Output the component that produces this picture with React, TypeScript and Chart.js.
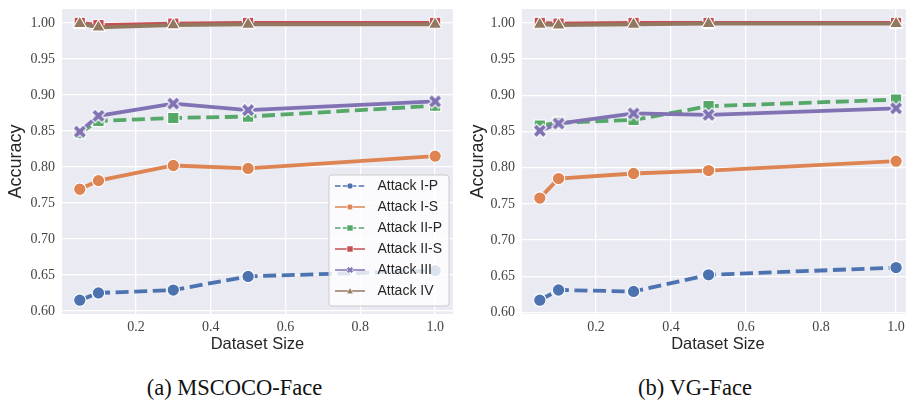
import React, { useEffect, useRef } from "react";
import { Chart, registerables } from "chart.js";
Chart.register(...registerables);

// ---------- data ----------
const datasetSizes = [0.05, 0.1, 0.3, 0.5, 1.0];
const xTicks = [0.2, 0.4, 0.6, 0.8, 1.0];
const yTicks = [0.6, 0.65, 0.7, 0.75, 0.8, 0.85, 0.9, 0.95, 1.0];
const seriesNames = ["Attack I-P", "Attack I-S", "Attack II-P", "Attack II-S", "Attack III", "Attack IV"];
const panelCaptions = ["(a) MSCOCO-Face", "(b) VG-Face"];
const xAxisTitle = "Dataset Size";
const yAxisTitle = "Accuracy";

// (a) MSCOCO-Face
const mscocoIP = [0.615, 0.625, 0.629, 0.648, 0.656];
const mscocoIS = [0.769, 0.781, 0.802, 0.798, 0.815];
const mscocoIIP = [0.847, 0.864, 0.868, 0.870, 0.885];
const mscocoIIS = [1.0, 0.997, 0.999, 1.0, 1.0];
const mscocoIII = [0.849, 0.871, 0.888, 0.879, 0.891];
const mscocoIV = [0.999, 0.994, 0.997, 0.998, 0.998];

// (b) VG-Face
const vgIP = [0.617, 0.631, 0.629, 0.652, 0.662];
const vgIS = [0.758, 0.785, 0.792, 0.796, 0.809];
const vgIIP = [0.858, 0.862, 0.866, 0.885, 0.894];
const vgIIS = [1.0, 0.999, 1.0, 1.0, 1.0];
const vgIII = [0.851, 0.861, 0.875, 0.873, 0.882];
const vgIV = [0.998, 0.997, 0.998, 0.999, 0.999];

// ---------- styles ----------
const COLORS = ["#4C72B0", "#DD8452", "#55A868", "#C44E52", "#8172B3", "#937860"];
const DASHED = [true, false, true, false, false, false];
const MARKERS = ["circle", "circle", "rect", "rect", "X", "triangle"];
const MARKER_R = [6.2, 6.2, 8, 8, 6, 7.6];
const BG = "#EAEAF2";
const TICK_FONT = { family: '"Liberation Serif", serif', size: 14 };
const LABEL_FONT_FAMILY = '"Liberation Sans", sans-serif';

function makeXMarker(size: number, half: number, arm: number, color: string, edge: string, lw: number) {
  const c = document.createElement("canvas");
  c.width = size;
  c.height = size;
  const ctx = c.getContext("2d")!;
  ctx.translate(size / 2, size / 2);
  ctx.rotate(Math.PI / 4);
  const a = arm, L = half;
  ctx.beginPath();
  ctx.moveTo(-a, -L); ctx.lineTo(a, -L); ctx.lineTo(a, -a); ctx.lineTo(L, -a);
  ctx.lineTo(L, a); ctx.lineTo(a, a); ctx.lineTo(a, L); ctx.lineTo(-a, L);
  ctx.lineTo(-a, a); ctx.lineTo(-L, a); ctx.lineTo(-L, -a); ctx.lineTo(-a, -a);
  ctx.closePath();
  ctx.fillStyle = color;
  ctx.fill();
  if (lw > 0) {
    ctx.lineWidth = lw;
    ctx.strokeStyle = edge;
    ctx.stroke();
  }
  return c;
}

const bgPlugin = {
  id: "bgArea",
  beforeDraw(chart: any) {
    const { ctx, chartArea: a } = chart;
    ctx.save();
    ctx.fillStyle = BG;
    ctx.fillRect(a.left, a.top, a.right - a.left, a.bottom - a.top);
    ctx.restore();
  },
};

function drawSmallMarker(ctx: CanvasRenderingContext2D, kind: string, x: number, y: number, color: string) {
  ctx.save();
  ctx.fillStyle = color;
  ctx.strokeStyle = "#fff";
  ctx.lineWidth = 0.6;
  ctx.setLineDash([]);
  if (kind === "circle") {
    ctx.beginPath();
    ctx.arc(x, y, 3, 0, Math.PI * 2);
    ctx.fill();
    ctx.stroke();
  } else if (kind === "rect") {
    ctx.beginPath();
    ctx.rect(x - 3, y - 3, 6, 6);
    ctx.fill();
    ctx.stroke();
  } else if (kind === "triangle") {
    ctx.beginPath();
    ctx.moveTo(x, y - 3.5);
    ctx.lineTo(x + 3.3, y + 2.8);
    ctx.lineTo(x - 3.3, y + 2.8);
    ctx.closePath();
    ctx.fill();
    ctx.stroke();
  } else {
    const img = makeXMarker(10, 3.4, 1.3, color, "#fff", 0.6);
    ctx.drawImage(img, x - 5, y - 5);
  }
  ctx.restore();
}

const legendPlugin = {
  id: "customLegend",
  afterDraw(chart: any) {
    const ctx: CanvasRenderingContext2D = chart.ctx;
    const x0 = 329, y0 = 175, w = 120, h = 131, r = 3;
    ctx.save();
    ctx.beginPath();
    ctx.moveTo(x0 + r, y0);
    ctx.arcTo(x0 + w, y0, x0 + w, y0 + h, r);
    ctx.arcTo(x0 + w, y0 + h, x0, y0 + h, r);
    ctx.arcTo(x0, y0 + h, x0, y0, r);
    ctx.arcTo(x0, y0, x0 + w, y0, r);
    ctx.closePath();
    ctx.fillStyle = "rgba(255,255,255,0.8)";
    ctx.fill();
    ctx.strokeStyle = "#CCCCCC";
    ctx.lineWidth = 1;
    ctx.stroke();
    seriesNames.forEach((name, i) => {
      const y = 186 + i * 21;
      ctx.beginPath();
      ctx.setLineDash(DASHED[i] ? [5.5, 2.4] : []);
      ctx.strokeStyle = COLORS[i];
      ctx.lineWidth = 1.5;
      ctx.moveTo(335, y);
      ctx.lineTo(365, y);
      ctx.stroke();
      ctx.setLineDash([]);
      drawSmallMarker(ctx, MARKERS[i], 350, y, COLORS[i]);
      ctx.fillStyle = "#262626";
      ctx.font = `14px ${LABEL_FONT_FAMILY}`;
      ctx.textBaseline = "middle";
      ctx.textAlign = "left";
      ctx.fillText(name, 377.5, y + 0.5);
    });
    ctx.restore();
  },
};

function buildConfig(series: number[][], yAxisWidth: number, padRight: number, withLegend: boolean) {
  const all = series.flat();
  const dmin = Math.min(...all), dmax = Math.max(...all);
  const ymin = dmin - 0.05 * (dmax - dmin);
  const ymax = dmax + 0.05 * (dmax - dmin);
  const xr = datasetSizes[datasetSizes.length - 1] - datasetSizes[0];
  const xmin = datasetSizes[0] - 0.05 * xr;
  const xmax = datasetSizes[datasetSizes.length - 1] + 0.05 * xr;

  const xMarker = makeXMarker(18, 7.2, 2.5, COLORS[4], "#fff", 1.1);

  const datasets = series.map((vals, i) => ({
    label: seriesNames[i],
    data: vals.map((v, j) => ({ x: datasetSizes[j], y: v })),
    borderColor: COLORS[i],
    backgroundColor: COLORS[i],
    borderWidth: 3.8,
    borderDash: DASHED[i] ? [13, 5.6] : [],
    pointStyle: MARKERS[i] === "X" ? xMarker : MARKERS[i],
    pointRadius: MARKER_R[i],
    pointBorderColor: "#fff",
    pointBorderWidth: 1.1,
    pointBackgroundColor: COLORS[i],
    tension: 0,
    order: series.length - 1 - i,
    clip: false as any,
  }));

  return {
    type: "line" as const,
    data: { datasets },
    plugins: withLegend ? [bgPlugin, legendPlugin] : [bgPlugin],
    options: {
      animation: false as const,
      responsive: false,
      maintainAspectRatio: false,
      layout: { padding: { top: 5, right: padRight, left: 0, bottom: 0 } },
      plugins: { legend: { display: false }, tooltip: { enabled: false } },
      scales: {
        x: {
          type: "linear" as const,
          min: xmin,
          max: xmax,
          afterBuildTicks: (s: any) => { s.ticks = xTicks.map((v) => ({ value: v })); },
          afterFit: (s: any) => {
            s.height = 44;
            s.paddingLeft = 0; s.paddingRight = 0; s.paddingTop = 0; s.paddingBottom = 0;
          },
          grid: { color: "#ffffff", lineWidth: 1.3, drawTicks: false },
          border: { display: false },
          ticks: {
            padding: 5,
            font: TICK_FONT,
            color: "#444444",
            maxRotation: 0,
            autoSkip: false,
            callback: (v: any) => Number(v).toFixed(1),
          },
          title: {
            display: true,
            text: xAxisTitle,
            color: "#262626",
            font: { family: LABEL_FONT_FAMILY, size: 16.5 },
            padding: { top: 0, bottom: 4 },
          },
        },
        y: {
          type: "linear" as const,
          min: ymin,
          max: ymax,
          afterBuildTicks: (s: any) => { s.ticks = yTicks.map((v) => ({ value: v })); },
          afterFit: (s: any) => {
            s.width = yAxisWidth;
            s.paddingLeft = 0; s.paddingRight = 0; s.paddingTop = 0; s.paddingBottom = 0;
          },
          grid: { color: "#ffffff", lineWidth: 1.3, drawTicks: false },
          border: { display: false },
          ticks: {
            padding: 7,
            font: TICK_FONT,
            color: "#444444",
            autoSkip: false,
            callback: (v: any) => Number(v).toFixed(2),
          },
          title: {
            display: true,
            text: yAxisTitle,
            color: "#262626",
            font: { family: LABEL_FONT_FAMILY, size: 18 },
            padding: { top: 5.5, bottom: 0 },
          },
        },
      },
    },
  };
}

function Panel(props: { series: number[][]; left: number; width: number; yAxisWidth: number; padRight: number; legend: boolean }) {
  const ref = useRef<HTMLCanvasElement>(null);
  useEffect(() => {
    if (!ref.current) return;
    const chart = new Chart(ref.current, buildConfig(props.series, props.yAxisWidth, props.padRight, props.legend) as any);
    return () => chart.destroy();
  }, []);
  return (
    <canvas
      ref={ref}
      width={props.width}
      height={358}
      style={{ position: "absolute", left: props.left, top: 0, width: props.width, height: 358 }}
    />
  );
}

export default function App() {
  const captionStyle = (center: number): React.CSSProperties => ({
    position: "absolute",
    left: center - 150,
    width: 300,
    top: 377,
    textAlign: "center",
    fontFamily: '"Liberation Serif", serif',
    fontSize: 22.5,
    lineHeight: "22.5px",
    color: "#111",
    whiteSpace: "nowrap",
  });
  return (
    <div style={{ position: "absolute", left: 0, top: 0, width: 906, height: 402, overflow: "hidden", background: "#fff" }}>
      <Panel
        series={[mscocoIP, mscocoIS, mscocoIIP, mscocoIIS, mscocoIII, mscocoIV]}
        left={0}
        width={462}
        yAxisWidth={62}
        padRight={5}
        legend={true}
      />
      <Panel
        series={[vgIP, vgIS, vgIIP, vgIIS, vgIII, vgIV]}
        left={462}
        width={461}
        yAxisWidth={60}
        padRight={5}
        legend={false}
      />
      <div style={captionStyle(234.5)}>{panelCaptions[0]}</div>
      <div style={captionStyle(695)}>{panelCaptions[1]}</div>
    </div>
  );
}
